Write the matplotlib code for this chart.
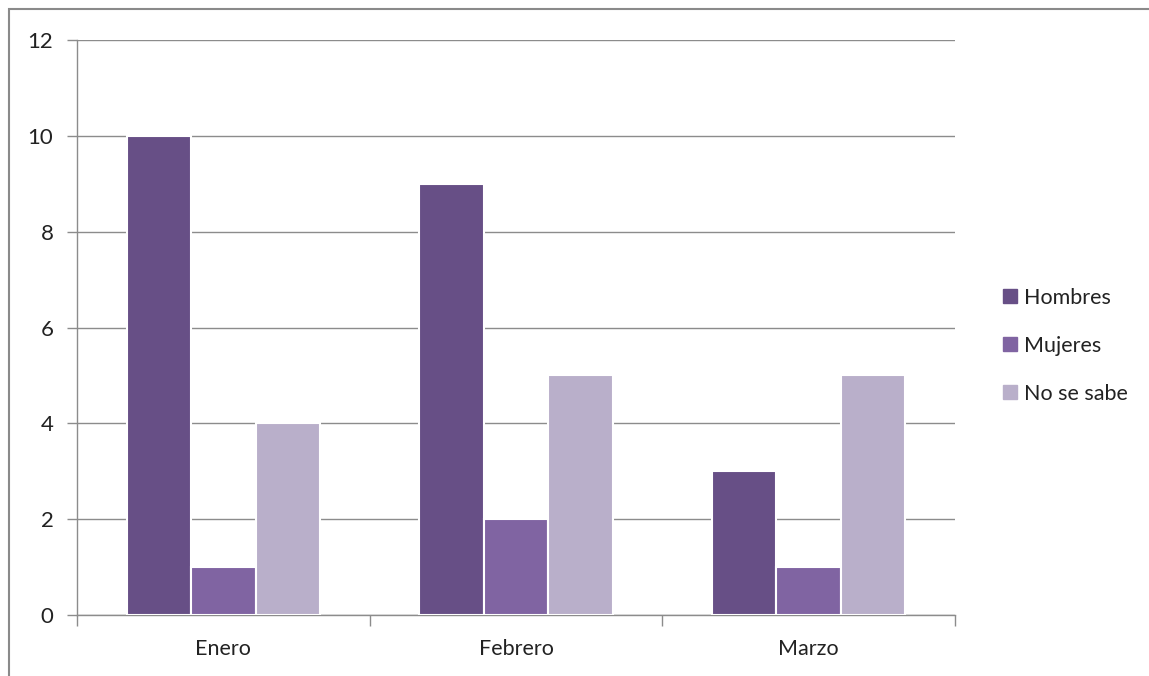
import matplotlib
matplotlib.use("Agg")
import matplotlib.pyplot as plt
import numpy as np
from matplotlib.patches import Rectangle
from matplotlib.lines import Line2D

categories = ["Enero", "Febrero", "Marzo"]
series_names = ["Hombres", "Mujeres", "No se sabe"]
hombres = [10, 9, 3]
mujeres = [1, 2, 1]
no_se_sabe = [4, 5, 5]
colors = ["#674F86", "#8064A2", "#B9AFCA"]
y_ticks = [0, 2, 4, 6, 8, 10, 12]

plt.rcParams['font.family'] = ['Lato', 'DejaVu Sans']

W, H = 1149, 676
fig = plt.figure(figsize=(W/100, H/100), dpi=100)
ax = fig.add_axes([77/W, (H-615)/H, (955-77)/W, (615-40)/H])

# figure border (left and top visible)
fig.add_artist(Rectangle((9/W, -0.1), 1.5, (H-9)/H + 0.1, transform=fig.transFigure,
                         fill=False, edgecolor="#8a8a8a", linewidth=1.5))

data = [hombres, mujeres, no_se_sabe]
x = np.arange(len(categories))
bw = 0.22
for i, (vals, name, c) in enumerate(zip(data, series_names, colors)):
    ax.bar(x + (i - 1) * bw, vals, width=bw, color=c, edgecolor="white",
           linewidth=1.5, label=name, zorder=3)

ax.set_xlim(-0.5, len(categories) - 0.5)
ax.set_ylim(0, 12)
ax.set_yticks(y_ticks)
ax.yaxis.grid(True, color="#8c8c8c", linewidth=1.0, zorder=0)
ax.set_axisbelow(True)

ax.set_xticks(x)
ax.set_xticklabels(categories, fontsize=15.5, color="#222222")
ax.tick_params(axis="x", length=0, pad=17)
ax.set_xticks(np.arange(-0.5, len(categories)), minor=True)
ax.tick_params(axis="x", which="minor", length=8, color="#8c8c8c", width=1)
ax.tick_params(axis="y", length=7, color="#8c8c8c", width=1, labelsize=16,
               labelcolor="#222222", pad=10)

for s in ["top", "right"]:
    ax.spines[s].set_visible(False)
for s in ["left", "bottom"]:
    ax.spines[s].set_color("#8c8c8c")
    ax.spines[s].set_linewidth(1)

handles = [Line2D([], [], marker="s", linestyle="none", markersize=10,
                  markerfacecolor=c, markeredgecolor=c) for c in colors]
fig.legend(handles, series_names, loc="center left",
           bbox_to_anchor=(991/W, (H-346)/H), frameon=False, fontsize=15.5,
           handletextpad=0.25, labelspacing=1.3, handlelength=0.8,
           borderpad=0, labelcolor="#222222")

fig.savefig("out.png", dpi=100)
